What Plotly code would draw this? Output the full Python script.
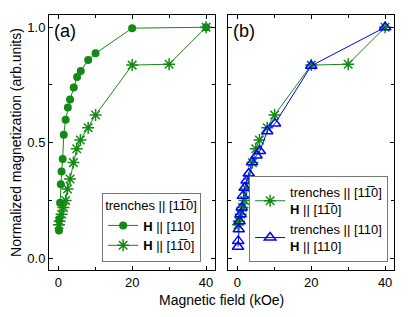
import plotly.graph_objects as go
from plotly.subplots import make_subplots

# Panel (a): H || [110] (circles)
circ_x = [0.2, 0.3, 0.5, 0.7, 0.9, 1.2, 1.5, 2.0, 2.6, 3.2, 4.2, 5.1, 6.1, 8.1, 10.1, 20, 40]
circ_y = [0.12, 0.17, 0.24, 0.32, 0.375, 0.43, 0.535, 0.60, 0.652, 0.687, 0.739, 0.785, 0.811, 0.858, 0.887, 0.996, 1.0]

# H || [1-10] (asterisks), used in both panels
star_x = [0.2, 0.4, 0.9, 1.4, 2.0, 2.5, 3.2, 4.1, 5.0, 6.0, 8.1, 10.1, 20, 30, 40]
star_y = [0.145, 0.16, 0.19, 0.22, 0.25, 0.30, 0.343, 0.414, 0.474, 0.512, 0.565, 0.620, 0.836, 0.840, 1.0]

# Panel (b): trenches || [110], H || [110] (triangles)
tri_x = [0.2, 0.25, 0.4, 0.6, 0.9, 1.2, 1.5, 2.0, 2.5, 3.1, 4.0, 5.2, 6.1, 8.1, 10.2, 20, 40]
tri_y = [0.05, 0.075, 0.125, 0.16, 0.19, 0.22, 0.27, 0.305, 0.336, 0.367, 0.415, 0.445, 0.464, 0.55, 0.583, 0.833, 1.0]

xticks = [0, 20, 40]
yticks = [0.0, 0.5, 1.0]
ytick_labels = ["0.0", "0.5", "1.0"]

GREEN = "#138a13"
BLUE = "#0000ff"
OV = "1\u0305"

fig = make_subplots(rows=1, cols=2, horizontal_spacing=0.038)

fig.add_trace(go.Scatter(x=circ_x, y=circ_y, mode="lines+markers",
                         name="<b>H</b> || [110]",
                         line=dict(color=GREEN, width=1),
                         marker=dict(symbol="circle", size=8, color=GREEN),
                         legend="legend"), row=1, col=1)
fig.add_trace(go.Scatter(x=star_x, y=star_y, mode="lines+markers",
                         name="<b>H</b> || [1" + OV + "0]",
                         line=dict(color=GREEN, width=1),
                         marker=dict(symbol="asterisk-open", size=10, color=GREEN,
                                     line=dict(color=GREEN, width=1.5)),
                         legend="legend"), row=1, col=1)

fig.add_trace(go.Scatter(x=star_x, y=star_y, mode="lines+markers",
                         name="trenches || [1" + OV + "0]<br><b>H</b> || [1" + OV + "0]",
                         line=dict(color=GREEN, width=1),
                         marker=dict(symbol="asterisk-open", size=10, color=GREEN,
                                     line=dict(color=GREEN, width=1.5)),
                         legend="legend2"), row=1, col=2)
fig.add_trace(go.Scatter(x=tri_x, y=tri_y, mode="lines+markers",
                         name="trenches || [110]<br><b>H</b> || [110]",
                         line=dict(color=BLUE, width=1),
                         marker=dict(symbol="triangle-up-open", size=10, color=BLUE,
                                     line=dict(color=BLUE, width=1.5)),
                         legend="legend2"), row=1, col=2)

axis_common = dict(showline=True, linecolor="black", linewidth=1, mirror="ticks",
                   ticks="inside", ticklen=4, tickcolor="black", showgrid=False,
                   zeroline=False, automargin=False,
                   tickfont=dict(size=13, color="black"))

for c in (1, 2):
    fig.update_xaxes(range=[-2.5, 42.4], tickvals=xticks,
                     minor=dict(dtick=10, tick0=0, ticks="inside", ticklen=3, tickcolor="black"),
                     row=1, col=c, **axis_common)
    fig.update_yaxes(range=[-0.051, 1.053], tickvals=yticks, ticktext=ytick_labels,
                     minor=dict(dtick=0.25, tick0=0, ticks="inside", ticklen=3, tickcolor="black"),
                     showticklabels=(c == 1), row=1, col=c, **axis_common)

fig.update_yaxes(title=dict(text="Normalized magnetization (arb.units)", font=dict(size=14, color="black"),
                            standoff=4), row=1, col=1)

fig.update_layout(
    width=407, height=309,
    margin=dict(l=41, r=21, t=7, b=47, autoexpand=False),
    plot_bgcolor="white", paper_bgcolor="white",
    font=dict(family="Arial, Liberation Sans", size=13, color="black"),
    legend=dict(x=0.154, y=0.033, xanchor="left", yanchor="bottom",
                bordercolor="#777777", borderwidth=1, bgcolor="white",
                title=dict(text="trenches || [1" + OV + "0]", side="top", font=dict(size=13)),
                font=dict(size=13), tracegroupgap=0, itemwidth=30),
    legend2=dict(x=0.58, y=0.03, xanchor="left", yanchor="bottom",
                 bordercolor="#777777", borderwidth=1, bgcolor="white",
                 font=dict(size=13), tracegroupgap=0, itemwidth=30),
    annotations=[
        dict(text="(a)", x=0.02, y=0.985, xref="x domain", yref="y domain",
             xanchor="left", yanchor="top", showarrow=False, font=dict(size=18)),
        dict(text="(b)", x=0.02, y=0.985, xref="x2 domain", yref="y2 domain",
             xanchor="left", yanchor="top", showarrow=False, font=dict(size=18)),
        dict(text="Magnetic field (kOe)", x=0.5, y=-0.08, xref="paper", yref="paper",
             xanchor="center", yanchor="top", showarrow=False, font=dict(size=14)),
    ],
)

fig.write_html("out.html")
